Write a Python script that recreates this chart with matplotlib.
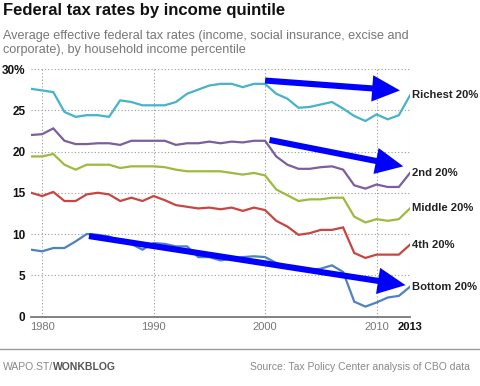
import matplotlib
matplotlib.use("Agg")
import matplotlib.pyplot as plt

plt.rcParams["font.family"] = ["Liberation Sans", "DejaVu Sans"]

years = list(range(1979, 2014))
richest = [27.6, 27.4, 27.2, 24.8, 24.2, 24.4, 24.4, 24.2, 26.2, 26.0,
           25.6, 25.6, 25.6, 26.0, 27.0, 27.5, 28.0, 28.2, 28.2, 27.8,
           28.2, 28.2, 27.0, 26.4, 25.3, 25.4, 25.7, 26.0, 25.2, 24.3,
           23.7, 24.5, 23.9, 24.4, 26.8]
second = [22.0, 22.1, 22.8, 21.3, 20.9, 20.9, 21.0, 21.0, 20.8, 21.3,
          21.3, 21.3, 21.3, 20.8, 21.0, 21.0, 21.2, 21.0, 21.2, 21.1,
          21.3, 21.3, 19.4, 18.4, 17.9, 17.9, 18.1, 18.2, 17.8, 15.9,
          15.5, 16.0, 15.7, 15.7, 17.4]
middle = [19.4, 19.4, 19.7, 18.4, 17.8, 18.4, 18.4, 18.4, 18.0, 18.2,
          18.2, 18.2, 18.1, 17.8, 17.6, 17.6, 17.6, 17.6, 17.4, 17.2,
          17.4, 17.1, 15.4, 14.7, 14.0, 14.2, 14.2, 14.4, 14.4, 12.1,
          11.4, 11.8, 11.6, 11.8, 13.1]
fourth = [15.0, 14.6, 15.1, 14.0, 14.0, 14.8, 15.0, 14.8, 14.0, 14.4,
          14.0, 14.6, 14.1, 13.5, 13.3, 13.1, 13.2, 13.0, 13.2, 12.8,
          13.2, 12.9, 11.6, 10.9, 9.9, 10.1, 10.5, 10.5, 10.8, 7.7,
          7.1, 7.5, 7.5, 7.5, 8.7]
bottom = [8.1, 7.9, 8.3, 8.3, 9.1, 10.0, 9.9, 9.7, 9.1, 8.8,
          8.1, 8.9, 8.8, 8.5, 8.5, 7.2, 7.2, 6.8, 7.0, 7.2,
          7.3, 7.2, 6.5, 6.0, 5.8, 5.6, 5.8, 6.2, 5.4, 1.8,
          1.2, 1.7, 2.3, 2.5, 3.6]

series = [richest, second, middle, fourth, bottom]
labels = ["Richest 20%", "2nd 20%", "Middle 20%", "4th 20%", "Bottom 20%"]
colors = ["#45b3c8", "#7b5ea0", "#9cba3e", "#c84543", "#4d82bf"]

yticks = [0, 5, 10, 15, 20, 25, 30]
ytick_labels = ["0", "5", "10", "15", "20", "25", "30%"]
xticks = [1980, 1990, 2000, 2010, 2013]
xtick_labels = ["1980", "1990", "2000", "2010", "2013"]

# hand-drawn blue arrows: (start year, start value) -> (end year, end value)
arrow_from = [(2000.0, 28.6), (2000.4, 21.4), (1984.2, 9.75)]
arrow_to = [(2012.1, 27.4), (2012.4, 18.2), (2012.6, 3.8)]

fig = plt.figure(figsize=(4.8, 3.86), dpi=100)
ax = fig.add_axes([31 / 480, 1 - 316.5 / 386, 379 / 480, 247.5 / 386])

for vals, c in zip(series, colors):
    ax.plot(years, vals, color=c, lw=1.6, solid_joinstyle="miter", zorder=3)

for vals, lab in zip(series, labels):
    ax.text(2013.2, vals[-1], lab, fontsize=8.1, fontweight="bold",
            color="#222222", va="center", ha="left", clip_on=False)

for (x0, y0), (x1, y1) in zip(arrow_from, arrow_to):
    ax.annotate("", xy=(x1, y1), xytext=(x0, y0),
                arrowprops=dict(arrowstyle="simple,head_length=1.0,head_width=0.95,tail_width=0.22",
                                mutation_scale=20, color="#0000ff", lw=0, shrinkA=0, shrinkB=0),
                zorder=5)

ax.set_xlim(1979, 2013)
ax.set_ylim(0, 30)
ax.set_yticks(yticks)
ax.set_yticklabels(ytick_labels, fontsize=8.5, fontweight="bold", color="#111111")
ax.set_xticks(xticks)
ax.set_xticklabels(xtick_labels, fontsize=8, color="#777777")
ax.get_xticklabels()[-1].set_fontweight("bold")
ax.get_xticklabels()[-1].set_color("#111111")
ax.tick_params(length=0, pad=4)

for y in yticks[1:]:
    ax.axhline(y, color="#999999", lw=0.8, ls=(0, (1, 2)), zorder=1)
for x in xticks:
    ax.axvline(x, color="#999999", lw=0.8, ls=(0, (1, 2)), zorder=1)

for s in ["top", "right", "left"]:
    ax.spines[s].set_visible(False)
ax.spines["bottom"].set_color("#777777")
ax.spines["bottom"].set_linewidth(1.3)

fig.text(3 / 480, 1 - 10 / 386, "Federal tax rates by income quintile",
         fontsize=12, fontweight="bold", color="#111111", va="center")
fig.text(3 / 480, 1 - 43 / 386,
         "Average effective federal tax rates (income, social insurance, excise and\n"
         "corporate), by household income percentile",
         fontsize=9.1, color="#777777", va="center", linespacing=1.25)

fig.add_artist(plt.Line2D([0, 1], [1 - 349 / 386] * 2, color="#999999", lw=1))

fig.canvas.draw()
t1 = fig.text(3 / 480, 1 - 367 / 386, "WAPO.ST/", fontsize=7.5, color="#888888", va="center")
bb = t1.get_window_extent(fig.canvas.get_renderer())
fig.text(bb.x1 / 480, 1 - 367 / 386, "WONKBLOG", fontsize=7.5, fontweight="bold",
         color="#555555", va="center")
fig.text(470 / 480, 1 - 367 / 386, "Source: Tax Policy Center analysis of CBO data",
         fontsize=7.5, color="#888888", va="center", ha="right")

fig.savefig("out.png", dpi=100)
